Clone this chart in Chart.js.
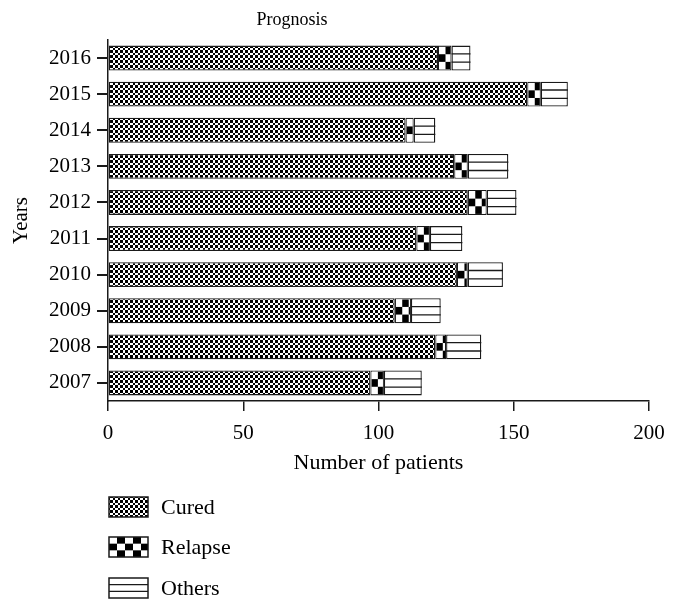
<!DOCTYPE html>
<html>
<head>
<meta charset="utf-8">
<script src="https://cdn.jsdelivr.net/npm/chart.js@4"></script>
<style>
  html, body { margin: 0; padding: 0; background: #fff; }
</style>
</head>
<body>
<canvas id="grafico" width="678" height="613"></canvas>
<script>
const YEARS = ["2007", "2008", "2009", "2010", "2011", "2012", "2013", "2014", "2015", "2016"];
const CURED = [97, 121, 106, 129, 114, 133, 128, 110, 155, 122];
const RELAPSE = [5, 4, 6, 4, 5, 7, 5, 3, 5, 5];
const OTHERS = [14, 13, 11, 13, 12, 11, 15, 8, 10, 7];
const X_TICKS = [0, 50, 100, 150, 200];
const SERIES_NAMES = ["Cured", "Relapse", "Others"];

const FONT = '"Liberation Serif", "DejaVu Serif", serif';
const INK = "#1a1a1a";

// newest year on top: the category axis draws the first label at the top
const topDown = arr => arr.slice().reverse();

// fine checkerboard used for "Cured"
function curedPattern(ctx) {
  const c = document.createElement("canvas");
  c.width = 10; c.height = 10;
  const g = c.getContext("2d");
  g.fillStyle = "#fff";
  g.fillRect(0, 0, 10, 10);
  g.fillStyle = "#000";
  const b = [0, 3, 5, 8, 10];
  for (let i = 0; i < 4; i++) {
    for (let j = 0; j < 4; j++) {
      if ((i + j) % 2 === 0) g.fillRect(b[i], b[j], b[i + 1] - b[i], b[j + 1] - b[j]);
    }
  }
  return ctx.createPattern(c, "repeat");
}

// coarse checker, 3 rows inside each relapse box
function drawChecker(ctx, left, top, w, h, rows, cellW) {
  const cellH = h / rows;
  ctx.save();
  ctx.beginPath();
  ctx.rect(left, top, w, h);
  ctx.clip();
  ctx.fillStyle = "#fff";
  ctx.fillRect(left, top, w, h);
  ctx.fillStyle = "#000";
  for (let r = 0; r < rows; r++) {
    for (let c = 0; left + c * cellW < left + w; c++) {
      if ((r + c) % 2 === 1) ctx.fillRect(left + c * cellW, top + r * cellH, cellW, cellH);
    }
  }
  ctx.restore();
}

function drawLines(ctx, left, top, w, h) {
  ctx.save();
  ctx.strokeStyle = INK;
  ctx.lineWidth = 1.3;
  ctx.beginPath();
  for (let k = 1; k < 3; k++) {
    const y = top + (h * k) / 3;
    ctx.moveTo(left, y);
    ctx.lineTo(left + w, y);
  }
  ctx.stroke();
  ctx.restore();
}

const patternsPlugin = {
  id: "patterns",
  afterDatasetsDraw(chart) {
    const ctx = chart.ctx;
    chart.getDatasetMeta(1).data.forEach(bar => {
      const left = Math.min(bar.base, bar.x), right = Math.max(bar.base, bar.x);
      const top = bar.y - bar.height / 2;
      drawChecker(ctx, left + 1, top + 1, right - left - 2, bar.height - 2, 3, 6.5);
    });
    chart.getDatasetMeta(2).data.forEach(bar => {
      const left = Math.min(bar.base, bar.x), right = Math.max(bar.base, bar.x);
      const top = bar.y - bar.height / 2;
      drawLines(ctx, left, top, right - left, bar.height);
    });
  }
};

const titleAndLegendPlugin = {
  id: "titleLegend",
  afterDraw(chart) {
    const ctx = chart.ctx;
    ctx.save();

    // tick marks of the year axis, at the middle of each bar
    const axisX = chart.chartArea.left;
    ctx.strokeStyle = INK;
    ctx.lineWidth = 2;
    ctx.beginPath();
    chart.getDatasetMeta(0).data.forEach(bar => {
      const y = Math.round(bar.y);
      ctx.moveTo(axisX - 11, y);
      ctx.lineTo(axisX, y);
    });
    ctx.stroke();

    ctx.fillStyle = "#000";
    ctx.textBaseline = "middle";
    ctx.textAlign = "center";
    ctx.font = "18px " + FONT;
    ctx.fillText("Prognosis", 292, 20);

    ctx.textAlign = "left";
    ctx.font = "22px " + FONT;
    const boxX = 109, boxW = 39, boxH = 20;
    const rowsY = [497, 537, 578];
    SERIES_NAMES.forEach((name, i) => {
      const y = rowsY[i];
      if (i === 0) {
        ctx.fillStyle = curedPattern(ctx);
        ctx.fillRect(boxX, y, boxW, boxH);
      } else if (i === 1) {
        drawChecker(ctx, boxX, y, boxW, boxH, 3, 8);
      } else {
        ctx.fillStyle = "#fff";
        ctx.fillRect(boxX, y, boxW, boxH);
        drawLines(ctx, boxX, y, boxW, boxH);
      }
      ctx.strokeStyle = INK;
      ctx.lineWidth = 1.5;
      ctx.strokeRect(boxX, y, boxW, boxH);
      ctx.fillStyle = "#000";
      ctx.fillText(name, 161, y + boxH / 2 + 1);
    });
    ctx.restore();
  }
};

const ctx = document.getElementById("grafico").getContext("2d");

new Chart(ctx, {
  type: "bar",
  data: {
    labels: topDown(YEARS),
    datasets: [
      { label: SERIES_NAMES[0], data: topDown(CURED), backgroundColor: curedPattern(ctx) },
      { label: SERIES_NAMES[1], data: topDown(RELAPSE), backgroundColor: "#fff" },
      { label: SERIES_NAMES[2], data: topDown(OTHERS), backgroundColor: "#fff" }
    ]
  },
  options: {
    indexAxis: "y",
    responsive: false,
    animation: false,
    devicePixelRatio: 1,
    layout: { padding: { top: 40, right: 29, bottom: 137, left: 0 } },
    datasets: {
      bar: {
        borderColor: INK,
        borderWidth: 1.3,
        borderSkipped: false,
        categoryPercentage: 1,
        barPercentage: 0.69
      }
    },
    plugins: {
      legend: { display: false },
      title: { display: false },
      tooltip: { enabled: false }
    },
    scales: {
      x: {
        stacked: true,
        min: 0,
        max: 200,
        afterBuildTicks(scale) {
          scale.ticks = X_TICKS.map(v => ({ value: v }));
        },
        afterFit(scale) { scale.height = 75; },
        grid: {
          display: true,
          drawOnChartArea: false,
          drawTicks: true,
          tickLength: 10,
          color: INK,
          lineWidth: 1.5
        },
        border: { display: true, color: INK, width: 1.5 },
        ticks: { color: "#000", font: { family: FONT, size: 21 }, padding: 10 },
        title: {
          display: true,
          text: "Number of patients",
          color: "#000",
          font: { family: FONT, size: 22 },
          padding: { top: 0, bottom: 0 }
        }
      },
      y: {
        stacked: true,
        afterFit(scale) { scale.width = 108; },
        grid: { display: false, drawTicks: true, tickLength: 10 },
        border: { display: true, color: INK, width: 1.5 },
        ticks: { color: "#000", font: { family: FONT, size: 21 }, padding: 7 },
        title: {
          display: true,
          text: "Years",
          color: "#000",
          font: { family: FONT, size: 21 },
          padding: { top: 9, bottom: 0 }
        }
      }
    }
  },
  plugins: [patternsPlugin, titleAndLegendPlugin]
});
</script>
</body>
</html>
